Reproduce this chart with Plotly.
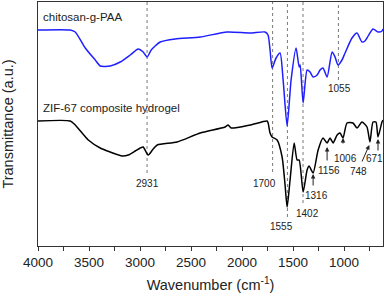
import plotly.graph_objects as go

# chitosan-g-PAA spectrum (blue)
wn_paa = [4000, 3684, 3635, 3537, 3439, 3390, 3292, 3194, 3096, 3018, 2969, 2930, 2890, 2802,
          2655, 2410, 2146, 1921, 1774, 1745, 1725, 1705, 1666, 1627, 1597, 1558, 1519, 1470,
          1440, 1430, 1401, 1362, 1333, 1303, 1264, 1235, 1206, 1166, 1117, 1088, 1059, 1020,
          990, 922, 873, 824, 795, 775, 716, 667, 628, 618]
t_paa = [216, 216, 214, 198, 186, 180, 180, 184, 191, 197, 194, 189, 196, 204,
         207, 209, 214, 213, 214, 211, 196, 178, 188, 193, 166, 120, 166, 198,
         179, 181, 143, 176, 174, 169, 171, 176, 178, 169, 194, 189, 181, 186,
         193, 208, 213, 204, 205, 208, 217, 214, 215, 217]

# ZIF-67 composite hydrogel spectrum (black)
wn_zif = [4000, 3684, 3635, 3507, 3390, 3292, 3174, 3115, 3047, 2998, 2969, 2920, 2871, 2831,
          2636, 2410, 2166, 2136, 2107, 1921, 1754, 1744, 1725, 1705, 1656, 1607, 1578, 1558,
          1529, 1489, 1460, 1440, 1401, 1362, 1343, 1303, 1254, 1206, 1166, 1137, 1107, 1068,
          1039, 1010, 971, 912, 873, 824, 775, 746, 716, 687, 667, 628, 618]
t_zif = [125, 125, 121, 106, 98, 94, 90, 91, 95, 98, 99, 91, 97, 101,
         104, 113, 119, 121, 118, 121, 125, 123, 113, 109, 106, 89, 61, 39,
         66, 103, 86, 86, 54, 76, 80, 73, 96, 108, 103, 108, 103, 111,
         113, 108, 123, 123, 118, 124, 119, 104, 124, 124, 109, 124, 126]

# dotted guide lines: wavenumber, lower end
guide_wn = [2931, 1700, 1555, 1402, 1055]
guide_bottom = [73, 74, 29, 43, 166]

# peak labels: text, x, y
label_text = ["2931", "1700", "1555", "1402", "1055"]
label_x = [2931, 1775, 1617, 1362, 1049]
label_y = [63, 63, 20, 33, 158]

# arrow labels: text, label x, label y, arrow tail (x,y), arrow head (x,y)
arrow_text = ["1316", "1156", "1006", "748", "671"]
arrow_lx = [1272, 1145, 990, 860, 702]
arrow_ly = [51, 76, 88, 75, 88]
arrow_tx = [1303, 1166, 1010, 830, 667]
arrow_ty = [59, 84, 101, 83, 94]
arrow_hx = [1303, 1166, 1010, 752, 667]
arrow_hy = [72, 99, 108, 101, 107]

YTOP = 244

fig = go.Figure()
fig.add_trace(go.Scatter(x=wn_paa, y=t_paa, mode="lines",
                         line=dict(color="rgb(30,30,255)", width=1.5, shape="spline", smoothing=0.6),
                         showlegend=False))
fig.add_trace(go.Scatter(x=wn_zif, y=t_zif, mode="lines",
                         line=dict(color="black", width=1.5, shape="spline", smoothing=0.6),
                         showlegend=False))

for w, b in zip(guide_wn, guide_bottom):
    fig.add_shape(type="line", x0=w, x1=w, y0=b, y1=YTOP, xref="x", yref="y",
                  line=dict(color="rgb(120,120,120)", width=1, dash="dot"), layer="below")

font_small = dict(family="Liberation Sans, Arial, sans-serif", size=10, color="#222")
for t, x, y in zip(label_text, label_x, label_y):
    fig.add_annotation(x=x, y=y, text=t, showarrow=False, font=font_small,
                       xanchor="center", yanchor="middle")

for t, lx, ly, tx, ty, hx, hy in zip(arrow_text, arrow_lx, arrow_ly, arrow_tx, arrow_ty, arrow_hx, arrow_hy):
    fig.add_annotation(x=lx, y=ly, text=t, showarrow=False, font=font_small,
                       xanchor="center", yanchor="middle")
    fig.add_annotation(x=hx, y=hy, ax=tx, ay=ty, axref="x", ayref="y", xref="x", yref="y",
                       text="", showarrow=True, arrowhead=2, arrowsize=0.9, arrowwidth=1,
                       arrowcolor="#222", standoff=0, startstandoff=0)

font_series = dict(family="Liberation Sans, Arial, sans-serif", size=11.5, color="#222")
fig.add_annotation(x=0.01, y=229, xref="paper", yref="y", text="chitosan-g-PAA",
                   showarrow=False, font=font_series, xanchor="left", yanchor="middle")
fig.add_annotation(x=0.01, y=138, xref="paper", yref="y", text="ZIF-67 composite hydrogel",
                   showarrow=False, font=font_series, xanchor="left", yanchor="middle")

fig.update_layout(
    width=387, height=302,
    margin=dict(l=38, r=4, t=2, b=56),
    paper_bgcolor="white", plot_bgcolor="white",
    font=dict(family="Liberation Sans, Arial, sans-serif", color="#222"),
    xaxis=dict(range=[4000, 618], tick0=0, dtick=500, ticks="outside", ticklen=4,
               tickcolor="#333", showgrid=False, zeroline=False, automargin=False,
               showline=True, mirror=True, linecolor="#333", linewidth=1,
               tickfont=dict(size=13.5),
               minor=dict(dtick=250, ticks="outside", ticklen=4, tickcolor="#333"),
               title=dict(text="Wavenumber (cm<sup>-1</sup>)", font=dict(size=14.5), standoff=10)),
    yaxis=dict(range=[0, YTOP], showticklabels=False, ticks="", showgrid=False, zeroline=False,
               automargin=False,
               showline=True, mirror=True, linecolor="#333", linewidth=1,
               title=dict(text="Transmittance (a.u.)", font=dict(size=14.5), standoff=22)),
)

fig.write_html("out.html", config={"displayModeBar": False},
               post_script="document.body.style.margin='0';document.body.style.padding='0';")
